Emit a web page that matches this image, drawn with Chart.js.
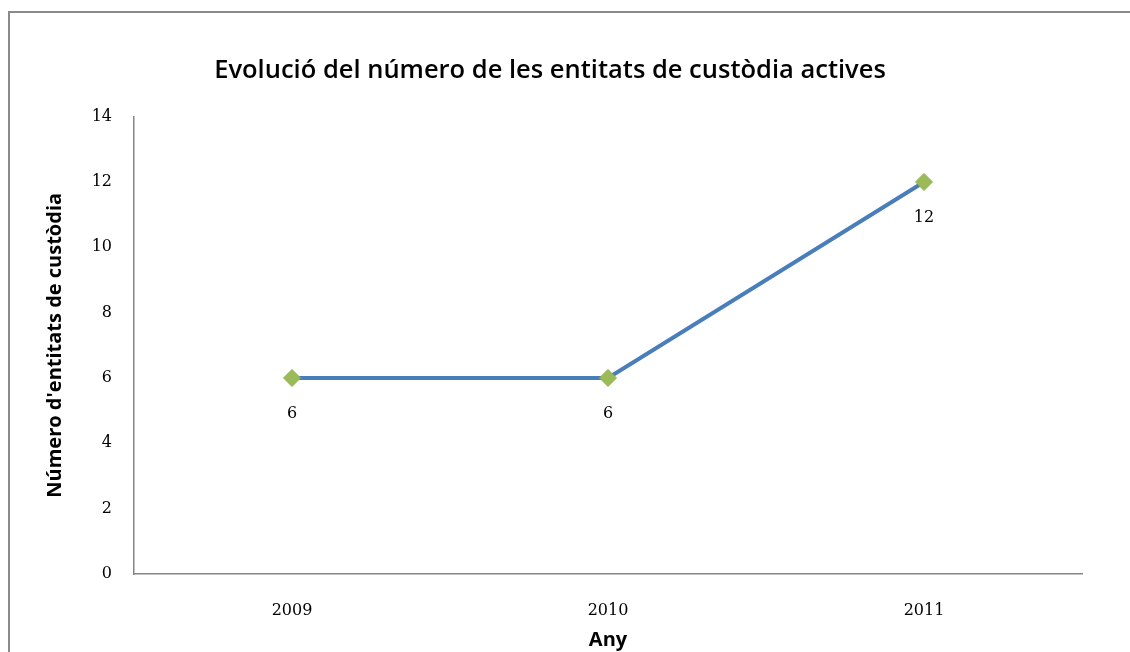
<!DOCTYPE html>
<html>
<head>
<meta charset="utf-8">
<script src="https://cdn.jsdelivr.net/npm/chart.js@4/dist/chart.umd.min.js"></script>
<style>
  html, body { margin: 0; padding: 0; background: #fff; }
  #wrap { position: relative; width: 1130px; height: 652px; overflow: hidden; }
  #frame { position: absolute; left: 8px; top: 11px; width: 1200px; height: 800px;
           border: 2px solid #8a8a8a; box-sizing: border-box; pointer-events: none; }
  canvas { position: absolute; left: 0; top: 0; }
</style>
</head>
<body>
<div id="wrap">
  <div id="frame"></div>
  <canvas id="c" width="1130" height="652"></canvas>
</div>
<script>
const categories = ['2009', '2010', '2011'];
const values = [6, 6, 12];
const yTicks = [0, 2, 4, 6, 8, 10, 12, 14];
const titleText = 'Evolució del número de les entitats de custòdia actives';
const yTitle = "Número d'entitats de custòdia";
const xTitle = 'Any';

const labelPlugin = {
  id: 'pointLabels',
  afterDatasetsDraw(chart) {
    const ctx = chart.ctx;
    const meta = chart.getDatasetMeta(0);
    ctx.save();
    ctx.font = '16px "DejaVu Serif"';
    ctx.fillStyle = '#000';
    ctx.textAlign = 'center';
    ctx.textBaseline = 'middle';
    meta.data.forEach((pt, i) => {
      ctx.fillText(String(values[i]), pt.x, pt.y + 36);
    });
    ctx.restore();
  }
};

new Chart(document.getElementById('c'), {
  type: 'line',
  data: {
    labels: categories,
    datasets: [{
      data: values,
      borderColor: '#4a7ebb',
      borderWidth: 4,
      pointStyle: 'rectRot',
      pointRadius: 8.5,
      pointBackgroundColor: '#9bbb59',
      pointBorderColor: '#8fb24c',
      pointBorderWidth: 1,
      tension: 0
    }]
  },
  options: {
    responsive: false,
    animation: false,
    layout: { padding: { left: 18, right: 48, top: 0, bottom: 0 } },
    plugins: {
      legend: { display: false },
      tooltip: { enabled: false },
      title: {
        display: true,
        text: titleText,
        color: '#000',
        font: { family: '"Open Sans"', size: 25.5, weight: '600' },
        padding: { top: 55, bottom: 31 }
      }
    },
    scales: {
      x: {
        offset: true,
        grid: { display: false, drawTicks: false },
        border: { display: true, color: '#868686', width: 1.5 },
        ticks: { color: '#000', padding: 27, font: { family: '"DejaVu Serif"', size: 16 } },
        title: { display: true, text: xTitle, color: '#000',
                 font: { family: '"Open Sans"', size: 20, weight: 'bold' },
                 padding: { top: 0, bottom: 0 } },
        afterFit(scale) { scale.height = 78; }
      },
      y: {
        min: 0, max: 14,
        afterBuildTicks(scale) { scale.ticks = yTicks.map(v => ({ value: v })); },
        grid: { display: false, drawTicks: false },
        border: { display: true, color: '#868686', width: 1.5 },
        ticks: { color: '#000', padding: 22, font: { family: '"DejaVu Serif"', size: 16 } },
        title: { display: true, text: yTitle, color: '#000',
                 font: { family: '"Open Sans"', size: 20, weight: 'bold' },
                 padding: { top: 25, bottom: 0 } },
        afterFit(scale) { scale.width = 116; }
      }
    }
  },
  plugins: [labelPlugin]
});
</script>
</body>
</html>
